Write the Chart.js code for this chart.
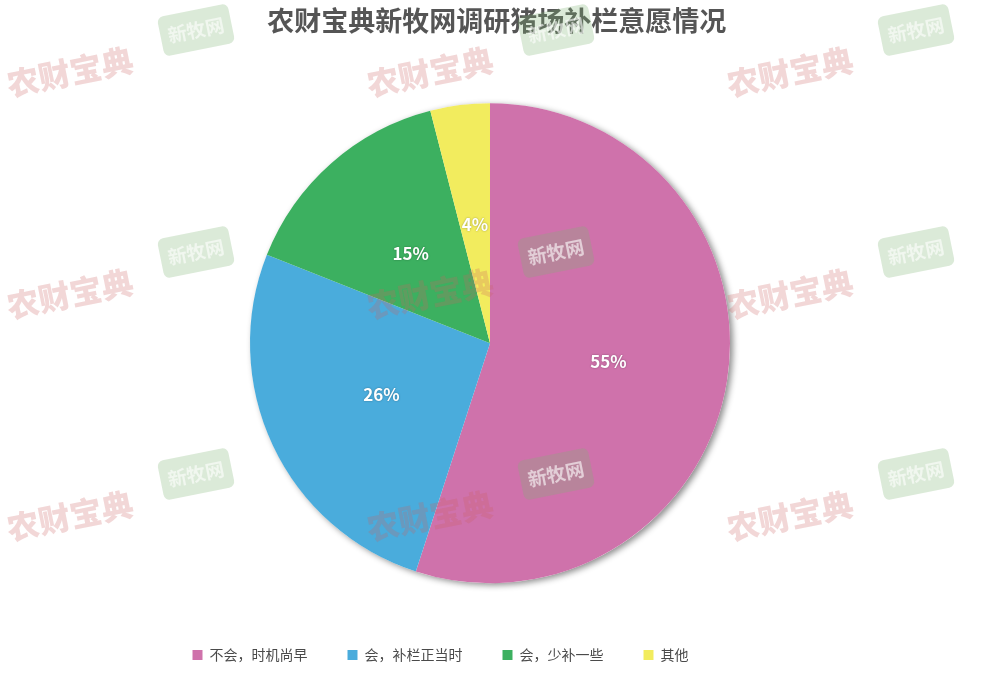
<!DOCTYPE html>
<html>
<head>
<meta charset="utf-8">
<script src="https://cdn.jsdelivr.net/npm/chart.js@4"></script>
<style>
  html, body { margin: 0; padding: 0; background: #fff; }
  #wrap { width: 993px; height: 681px; }
</style>
</head>
<body>
<div id="wrap"><canvas id="pieChart"></canvas></div>
<script>
const categories = ['不会，时机尚早', '会，补栏正当时', '会，少补一些', '其他'];
const shares = [55, 26, 15, 4];
const colors = ['#CF72AB', '#4AACDC', '#3CB060', '#F2EC5E'];

const FONT = '"Noto Sans CJK SC", "Noto Sans", sans-serif';

// soft shadow under the whole pie, drawn once so slices don't shade each other
const pieShadow = {
  id: 'pieShadow',
  beforeDatasetsDraw(chart) {
    const arc = chart.getDatasetMeta(0).data[0];
    if (!arc) return;
    const ctx = chart.ctx;
    ctx.save();
    ctx.shadowColor = 'rgba(0,0,0,0.45)';
    ctx.shadowBlur = 6;
    ctx.shadowOffsetX = 3;
    ctx.shadowOffsetY = 2;
    ctx.fillStyle = '#fff';
    ctx.beginPath();
    ctx.arc(arc.x, arc.y, arc.outerRadius, 0, Math.PI * 2);
    ctx.fill();
    ctx.restore();
  }
};

// percent labels inside the slices
const sliceLabels = {
  id: 'sliceLabels',
  afterDatasetsDraw(chart) {
    const ctx = chart.ctx;
    const meta = chart.getDatasetMeta(0);
    ctx.save();
    ctx.font = 'bold 17px ' + FONT;
    ctx.fillStyle = '#fff';
    ctx.textAlign = 'center';
    ctx.textBaseline = 'middle';
    ctx.shadowColor = 'rgba(0,0,0,0.35)';
    ctx.shadowBlur = 2;
    meta.data.forEach((arc, i) => {
      const p = arc.tooltipPosition();
      ctx.fillText(shares[i] + '%', p.x, p.y);
    });
    ctx.restore();
  }
};

// faint repeating watermarks of the source
const watermarks = {
  id: 'watermarks',
  afterDraw(chart) {
    const ctx = chart.ctx;
    const cols = [70, 430, 790];
    const rows = [72, 294, 516];
    ctx.save();
    ctx.textAlign = 'center';
    ctx.textBaseline = 'middle';
    rows.forEach(y => cols.forEach(x => {
      ctx.save();
      ctx.translate(x, y);
      ctx.rotate(-0.2);
      ctx.font = '900 32px ' + FONT;
      ctx.fillStyle = 'rgba(205,95,95,0.25)';
      ctx.fillText('农财宝典', 0, 0);
      ctx.restore();

      ctx.save();
      ctx.translate(x + 126, y - 42);
      ctx.rotate(-0.2);
      ctx.fillStyle = 'rgba(125,180,115,0.28)';
      ctx.beginPath();
      ctx.roundRect(-36, -20, 72, 40, 6);
      ctx.fill();
      ctx.font = 'bold 19px ' + FONT;
      ctx.fillStyle = 'rgba(255,255,255,0.6)';
      ctx.fillText('新牧网', 0, 0);
      ctx.restore();
    }));
    ctx.restore();
  }
};

new Chart(document.getElementById('pieChart'), {
  type: 'pie',
  data: {
    labels: categories,
    datasets: [{
      data: shares,
      backgroundColor: colors,
      borderWidth: 0,
      radius: 240
    }]
  },
  options: {
    responsive: true,
    maintainAspectRatio: false,
    animation: false,
    layout: { padding: { bottom: 9, right: 13 } },
    plugins: {
      title: {
        display: true,
        // leading en space keeps the title centred on the page, not on the pie
        text: '\u2002农财宝典新牧网调研猪场补栏意愿情况',
        color: '#555',
        font: { family: FONT, size: 27, weight: 'bold' },
        padding: { top: 5, bottom: 41 }
      },
      legend: {
        position: 'bottom',
        labels: {
          boxWidth: 10,
          boxHeight: 10,
          padding: 40,
          color: '#4a4a4a',
          font: { family: FONT, size: 14 },
          generateLabels(chart) {
            const items = Chart.overrides.pie.plugins.legend.labels.generateLabels(chart);
            items.forEach(it => { it.lineWidth = 0; });
            // spacer so the row sits left of centre like the source
            items.push({ text: '　　　', fillStyle: 'rgba(0,0,0,0)', strokeStyle: 'rgba(0,0,0,0)',
                         lineWidth: 0, hidden: false, index: -1 });
            return items;
          }
        },
        onClick() {}
      },
      tooltip: { enabled: false }
    }
  },
  plugins: [pieShadow, sliceLabels, watermarks]
});
</script>
</body>
</html>
